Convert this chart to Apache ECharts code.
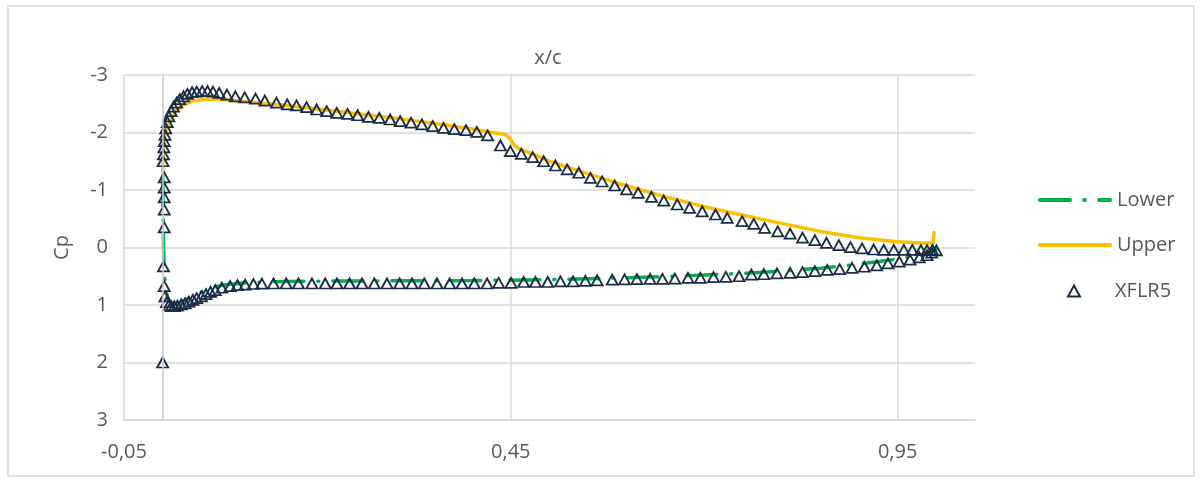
<!DOCTYPE html>
<html>
<head>
<meta charset="utf-8">
<script src="https://cdn.jsdelivr.net/npm/echarts@6/dist/echarts.min.js"></script>
<style>
html,body{margin:0;padding:0;background:#fff;}
#chart{width:1202px;height:480px;}
</style>
</head>
<body>
<div id="chart"></div>
<script>
// ---- Data ----
const xTickLabels = ['-0,05', '0,45', '0,95'];
const yTickLabels = ['-3', '-2', '-1', '0', '1', '2', '3'];

const upperX = [0, 0.0005, 0.001, 0.002, 0.003, 0.005, 0.008, 0.012, 0.017, 0.023, 0.03, 0.04, 0.05, 0.06, 0.07, 0.08, 0.1, 0.13, 0.16, 0.2, 0.25, 0.3, 0.35, 0.4, 0.43, 0.44, 0.445, 0.45, 0.455, 0.46, 0.48, 0.5, 0.55, 0.6, 0.65, 0.7, 0.75, 0.8, 0.85, 0.9, 0.95, 0.98, 0.996, 0.997];
const upperCp = [-1.3, -1.55, -1.7, -1.85, -1.95, -2.05, -2.15, -2.27, -2.37, -2.45, -2.5, -2.55, -2.57, -2.58, -2.58, -2.57, -2.55, -2.51, -2.47, -2.41, -2.33, -2.25, -2.16, -2.06, -1.99, -1.97, -1.95, -1.87, -1.77, -1.72, -1.62, -1.5, -1.28, -1.07, -0.88, -0.71, -0.56, -0.42, -0.28, -0.17, -0.1, -0.08, -0.08, -0.26];

const lowerX = [0, 0.0004, 0.0008, 0.0012, 0.002, 0.003, 0.005, 0.008, 0.012, 0.018, 0.025, 0.035, 0.045, 0.055, 0.065, 0.08, 0.1, 0.13, 0.16, 0.2, 0.3, 0.4, 0.5, 0.55, 0.6, 0.65, 0.7, 0.75, 0.8, 0.85, 0.9, 0.95, 0.98, 0.995, 1.0];
const lowerCp = [-1.25, -0.9, -0.4, 0.05, 0.35, 0.6, 0.8, 0.93, 0.98, 0.98, 0.94, 0.87, 0.8, 0.74, 0.69, 0.65, 0.62, 0.6, 0.59, 0.585, 0.58, 0.575, 0.56, 0.545, 0.525, 0.505, 0.48, 0.45, 0.41, 0.36, 0.29, 0.2, 0.13, 0.07, 0.03];

const xflrX = [1.0, 0.995, 0.988, 0.98, 0.969, 0.958, 0.945, 0.932, 0.919, 0.904, 0.889, 0.874, 0.858, 0.843, 0.827, 0.811, 0.795, 0.778, 0.764, 0.749, 0.7297, 0.7146, 0.6974, 0.681, 0.6651, 0.6477, 0.6318, 0.6146, 0.5995, 0.5843, 0.568, 0.5529, 0.5378, 0.5228, 0.5076, 0.4925, 0.4783, 0.4636, 0.4494, 0.4365, 0.42, 0.406, 0.392, 0.377, 0.363, 0.349, 0.335, 0.321, 0.307, 0.294, 0.28, 0.266, 0.252, 0.239, 0.225, 0.212, 0.199, 0.186, 0.173, 0.161, 0.147, 0.132, 0.12, 0.106, 0.094, 0.083, 0.073, 0.065, 0.058, 0.051, 0.044, 0.038, 0.032, 0.027, 0.022, 0.018, 0.014, 0.011, 0.008, 0.006, 0.004, 0.003, 0.002, 0.0015, 0.001, 0.0005, 0.002, 0.002, 0.002, 0.002, 0.002, 0.001, 0.002, 0.003, 0.005, 0.008, 0.011, 0.015, 0.019, 0.024, 0.029, 0.034, 0.039, 0.044, 0.05, 0.056, 0.062, 0.068, 0.0765, 0.0872, 0.0966, 0.1066, 0.1173, 0.1282, 0.1432, 0.1596, 0.1755, 0.1929, 0.2101, 0.2252, 0.2415, 0.2576, 0.2735, 0.2899, 0.3062, 0.3222, 0.3382, 0.3546, 0.3709, 0.3869, 0.4028, 0.4193, 0.4343, 0.4503, 0.4666, 0.4818, 0.4977, 0.5141, 0.5305, 0.5464, 0.5616, 0.581, 0.597, 0.613, 0.63, 0.646, 0.662, 0.679, 0.695, 0.712, 0.728, 0.745, 0.761, 0.777, 0.794, 0.811, 0.827, 0.843, 0.859, 0.875, 0.891, 0.907, 0.923, 0.9375, 0.952, 0.966, 0.978, 0.988, 0.994, 0.0];
const xflrCp = [0.05, 0.04, 0.047, 0.047, 0.04, 0.04, 0.04, 0.04, 0.035, 0.017, -0.005, -0.04, -0.082, -0.127, -0.17, -0.24, -0.28, -0.34, -0.41, -0.457, -0.517, -0.574, -0.63, -0.69, -0.748, -0.817, -0.882, -0.951, -1.009, -1.078, -1.148, -1.21, -1.3, -1.357, -1.426, -1.5, -1.57, -1.63, -1.675, -1.774, -1.95, -2.01, -2.04, -2.06, -2.08, -2.11, -2.14, -2.17, -2.197, -2.226, -2.255, -2.27, -2.3, -2.325, -2.34, -2.37, -2.4, -2.44, -2.47, -2.49, -2.52, -2.556, -2.59, -2.61, -2.63, -2.66, -2.69, -2.71, -2.72, -2.72, -2.71, -2.7, -2.67, -2.63, -2.58, -2.52, -2.45, -2.37, -2.28, -2.18, -2.07, -1.96, -1.85, -1.74, -1.62, -1.5, -1.22, -1.04, -0.87, -0.66, -0.35, 0.33, 0.67, 0.85, 0.95, 1.0, 1.02, 1.02, 1.01, 0.99, 0.97, 0.94, 0.91, 0.88, 0.85, 0.81, 0.77, 0.74, 0.7, 0.67, 0.655, 0.645, 0.635, 0.63, 0.626, 0.626, 0.626, 0.626, 0.626, 0.626, 0.626, 0.626, 0.626, 0.626, 0.626, 0.626, 0.626, 0.626, 0.626, 0.626, 0.626, 0.626, 0.615, 0.615, 0.6, 0.6, 0.6, 0.59, 0.59, 0.58, 0.57, 0.56, 0.555, 0.55, 0.545, 0.545, 0.54, 0.53, 0.528, 0.516, 0.51, 0.5, 0.47, 0.465, 0.45, 0.44, 0.43, 0.41, 0.39, 0.375, 0.355, 0.335, 0.31, 0.275, 0.245, 0.21, 0.17, 0.135, 0.09, 2.0];

const zip = (xs, ys) => xs.map((x, i) => [x, ys[i]]);

const FONT = 'Open Sans';
const TXT = '#595959';
const GRID = '#d9d9d9';
const NAVY = '#1B2C48';
const GREEN = '#00B050';
const YELLOW = '#FFC000';

const chart = echarts.init(document.getElementById('chart'), null, {renderer: 'canvas'});
chart.setOption({
  animation: false,
  backgroundColor: '#fff',
  textStyle: {fontFamily: FONT},
  graphic: [
    {type: 'rect', shape: {x: 8, y: 6, width: 1186, height: 470}, style: {fill: 'none', stroke: GRID, lineWidth: 1.5}, silent: true, z: -10},
    {type: 'text', x: 548, y: 58, style: {text: 'x/c', fill: TXT, font: '20px "Open Sans"', textAlign: 'center', textVerticalAlign: 'middle'}}
  ],
  grid: {left: 124, right: 227, top: 75, bottom: 60, containLabel: false},
  legend: [
    {
      orient: 'vertical', left: 1033, top: 185, itemGap: 25, itemWidth: 70, itemHeight: 14,
      textStyle: {color: TXT, fontSize: 20, fontFamily: FONT, padding: [0, 0, 0, 2]},
      lineStyle: {width: 4, cap: 'round'},
      data: [
        {name: 'Lower', itemStyle: {opacity: 0}},
        {name: 'Upper', itemStyle: {opacity: 0}}
      ]
    },
    {
      orient: 'vertical', left: 1062, top: 276, itemWidth: 12, itemHeight: 11,
      textStyle: {color: TXT, fontSize: 20, fontFamily: FONT, padding: [0, 0, 0, 30]},
      data: [{name: 'XFLR5', icon: 'triangle'}]
    }
  ],
  xAxis: {
    type: 'value', min: -0.05, max: 1.05, interval: 0.5,
    axisLine: {onZero: false, show: true, lineStyle: {color: GRID, width: 1.5}},
    axisTick: {show: false},
    axisLabel: {
      color: TXT, fontSize: 20, fontFamily: FONT, margin: 22, showMaxLabel: false,
      formatter: function (v) {
        const i = Math.round((v + 0.05) / 0.5);
        return xTickLabels[i] !== undefined ? xTickLabels[i] : '';
      }
    },
    splitLine: {show: true, showMaxLine: false, lineStyle: {color: GRID, width: 1.5}}
  },
  yAxis: {
    type: 'value', inverse: true, min: -3, max: 3, interval: 1,
    name: 'Cp', nameLocation: 'middle', nameGap: 52,
    nameTextStyle: {color: TXT, fontSize: 20, fontFamily: FONT},
    axisLine: {show: true, lineStyle: {color: GRID, width: 1.5}},
    axisTick: {show: false},
    axisLabel: {
      color: TXT, fontSize: 20, fontFamily: FONT, margin: 16,
      formatter: function (v) {
        const i = Math.round(v + 3);
        return yTickLabels[i] !== undefined ? yTickLabels[i] : '';
      }
    },
    splitLine: {show: true, lineStyle: {color: GRID, width: 1.5}}
  },
  series: [
    {
      name: 'Lower', type: 'line', data: zip(lowerX, lowerCp), showSymbol: false, symbol: 'none',
      lineStyle: {color: GREEN, width: 3.5, type: [30, 14, 1, 14], cap: 'round'},
      itemStyle: {color: GREEN}, z: 2,
      markLine: {silent: true, symbol: 'none', label: {show: false}, animation: false,
        lineStyle: {color: '#d0d0d0', width: 1.5, type: 'solid'}, data: [{xAxis: 0}]}
    },
    {
      name: 'Upper', type: 'line', data: zip(upperX, upperCp), showSymbol: false, symbol: 'none',
      lineStyle: {color: YELLOW, width: 3.5, cap: 'round'},
      itemStyle: {color: YELLOW}, z: 3
    },
    {
      name: 'XFLR5', type: 'scatter', data: zip(xflrX, xflrCp), symbol: 'triangle', symbolSize: [11, 10],
      itemStyle: {color: 'rgba(255,255,255,0)', borderColor: NAVY, borderWidth: 1.8, opacity: 1}, z: 4
    }
  ]
});
</script>
</body>
</html>
